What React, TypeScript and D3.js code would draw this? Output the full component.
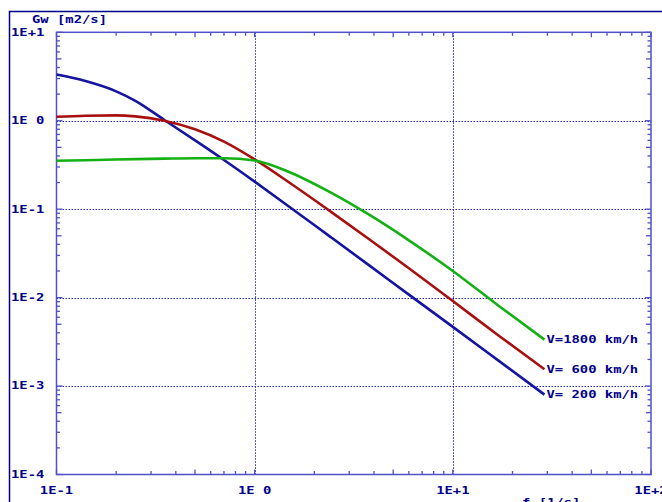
import React from "react";
import * as d3 from "d3";

// frequencies [1/s] and spectral values Gw [m2/s]
const freq = [0.1, 0.14, 0.2, 0.25, 0.35, 0.5, 0.7, 1.0, 1.5, 2.4, 3.8, 6, 10, 17, 29];
const gw200 = [3.33, 2.81, 2.15, 1.68, 1.02, 0.6, 0.36, 0.205, 0.106, 0.049, 0.023, 0.0108, 0.00467, 0.00194, 0.0008];
const gw600 = [1.11, 1.14, 1.15, 1.12, 1.0, 0.8, 0.58, 0.365, 0.199, 0.0952, 0.0454, 0.0215, 0.00915, 0.00373, 0.00155];
const gw1800 = [0.353, 0.358, 0.364, 0.368, 0.373, 0.377, 0.377, 0.355, 0.262, 0.156, 0.086, 0.0444, 0.02, 0.0081, 0.00335];

const seriesNames = ["V= 200 km/h", "V= 600 km/h", "V=1800 km/h"];
const seriesColors = ["#1414a0", "#a81010", "#14b014"];

const xDecades = [0.1, 1, 10, 100];
const yDecades = [10, 1, 0.1, 0.01, 0.001, 0.0001];
const xTickLabels = ["1E-1", "1E 0", "1E+1", "1E+2"];
const yTickLabels = ["1E+1", "1E 0", "1E-1", "1E-2", "1E-3", "1E-4"];

const W = 662;
const H = 502;
const left = 56.5, right = 651, top = 32.3, bottom = 474.5;
const navy = "#000088";
const axisBlue = "#5050c8";
const gridBlue = "#2424c0";

// bitmap-like wide monospace text
function Label({ x, y, text, anchor = "start" }: { x: number; y: number; text: string; anchor?: string }) {
  return (
    <text
      transform={`translate(${x},${y}) scale(1.32,1)`}
      textAnchor={anchor}
      dominantBaseline="central"
      fontFamily="'DejaVu Sans Mono', monospace"
      fontWeight="bold"
      fontSize={10.5}
      fill={navy}
    >
      {text}
    </text>
  );
}

const crisp = (v: number) => Math.round(v) + 0.5;

export default function App() {
  const x = d3.scaleLog().domain([0.1, 100]).range([left, right]);
  const y = d3.scaleLog().domain([0.0001, 10]).range([bottom, top]);

  const series = [gw200, gw600, gw1800];
  const line = d3
    .line<number>()
    .x((_, i) => x(freq[i]))
    .y((d) => y(d))
    .curve(d3.curveMonotoneX);

  // minor ticks 2..9 inside each decade
  const minorX: number[] = [];
  xDecades.slice(0, -1).forEach((d) => d3.range(2, 10).forEach((m) => minorX.push(d * m)));
  const minorY: number[] = [];
  yDecades.slice(1).forEach((d) => d3.range(2, 10).forEach((m) => minorY.push(d * m)));
  const tickLen = (v: number) => (Math.abs(v / Math.pow(10, Math.floor(Math.log10(v) + 1e-9)) - 5) < 1e-6 ? 5 : 3.5);

  const lastF = freq[freq.length - 1];

  return (
    <svg width={W} height={H} style={{ position: "absolute", left: 0, top: 0, background: "#fff" }}>
      <rect x={0} y={0} width={W} height={H} fill="#fff" />
      {/* outer border */}
      <path d={`M9.5,${H} V11.5 H${W}`} fill="none" stroke={navy} strokeWidth={1.5} />

      {/* grid */}
      {xDecades.slice(1, -1).map((d) => (
        <line key={"gx" + d} x1={crisp(x(d))} x2={crisp(x(d))} y1={top} y2={bottom} stroke={gridBlue} strokeWidth={1} strokeDasharray="1.5,1.5" />
      ))}
      {yDecades.slice(1, -1).map((d) => (
        <line key={"gy" + d} x1={left} x2={right} y1={crisp(y(d))} y2={crisp(y(d))} stroke={gridBlue} strokeWidth={1} strokeDasharray="1.5,1.5" />
      ))}

      {/* frame */}
      <rect x={left} y={top} width={right - left} height={bottom - top} fill="none" stroke={axisBlue} strokeWidth={1.5} />

      {/* ticks */}
      <g stroke={axisBlue} strokeWidth={1.3}>
        {minorX.map((v) => (
          <g key={"tx" + v}>
            <line x1={x(v)} x2={x(v)} y1={bottom} y2={bottom - tickLen(v)} />
            <line x1={x(v)} x2={x(v)} y1={top} y2={top + tickLen(v)} />
          </g>
        ))}
        {xDecades.map((v) => (
          <g key={"TX" + v}>
            <line x1={x(v)} x2={x(v)} y1={bottom} y2={bottom - 5} />
            <line x1={x(v)} x2={x(v)} y1={top} y2={top + 5} />
          </g>
        ))}
        {minorY.map((v) => (
          <g key={"ty" + v}>
            <line x1={left} x2={left + tickLen(v)} y1={y(v)} y2={y(v)} />
            <line x1={right} x2={right - tickLen(v)} y1={y(v)} y2={y(v)} />
          </g>
        ))}
        {yDecades.map((v) => (
          <g key={"TY" + v}>
            <line x1={left} x2={left + 6} y1={y(v)} y2={y(v)} />
            <line x1={right} x2={right - 6} y1={y(v)} y2={y(v)} />
          </g>
        ))}
      </g>

      {/* curves */}
      {series.map((s, i) => (
        <path key={"s" + i} d={line(s) || ""} fill="none" stroke={seriesColors[i]} strokeWidth={2.6} strokeLinejoin="round" />
      ))}

      {/* series labels */}
      {series.map((s, i) => (
        <Label key={"l" + i} x={x(lastF) + 2} y={y(s[s.length - 1])} text={seriesNames[i]} />
      ))}

      {/* axis labels */}
      <Label x={32} y={20} text="Gw [m2/s]" />
      {yDecades.map((v, i) => (
        <Label key={"yl" + v} x={11} y={y(v)} text={yTickLabels[i]} />
      ))}
      {xDecades.map((v, i) => (
        <Label key={"xl" + v} x={x(v)} y={491} text={xTickLabels[i]} anchor="middle" />
      ))}
      <Label x={522} y={503} text="f [1/s]" />
    </svg>
  );
}
